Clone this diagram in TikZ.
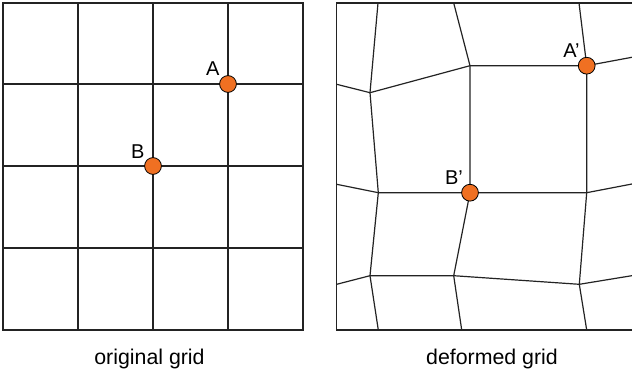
\documentclass[tikz,border=0pt]{standalone}
\usepackage{fontspec}
\setmainfont{Liberation Sans}
\usetikzlibrary{positioning}
\definecolor{dotorange}{RGB}{240,112,34}
\definecolor{gridline}{RGB}{35,35,35}
\begin{document}
\begin{tikzpicture}[
        x=0.75pt, y=-0.75pt,
        grid/.style={draw=gridline, line width=0.9pt, line join=miter},
        dot/.style={circle, draw=black, line width=0.6pt, fill=dotorange, minimum size=12.6pt, inner sep=0pt},
        lbl/.style={inner sep=0pt, font=\fontsize{15}{18}\selectfont},
        caption/.style={inner sep=0pt, font=\fontsize{16}{19}\selectfont}
    ]
        \useasboundingbox (0,0) rectangle (632,378);
        \clip (0,0) rectangle (632,378);

        % Original grid
        \draw[grid] (3,3) rectangle (303,330);
        \draw[grid] (78,3) -- (78,330);
        \draw[grid] (153,3) -- (153,330);
        \draw[grid] (228,3) -- (228,330);
        \draw[grid] (3,84) -- (303,84);
        \draw[grid] (3,166) -- (303,166);
        \draw[grid] (3,248) -- (303,248);

        % Deformed grid
        \draw[grid] (336.7,3) rectangle (636.7,330);
        \draw[grid] (336.7,84.3) -- (370,92.7) -- (470,65.7) -- (586.7,65.7) -- (636.7,56.4);
        \draw[grid] (336.7,184.3) -- (378.3,192.7) -- (470,192.7) -- (586.7,192.7) -- (636.7,183.1);
        \draw[grid] (336.7,284.3) -- (370,275.7) -- (453.7,275.7) -- (579.3,284.3) -- (636.7,274.9);
        \draw[grid] (378,3) -- (370,92.7) -- (378.3,192.7) -- (370,275.7) -- (378.3,330);
        \draw[grid] (453.7,3) -- (470,65.7) -- (470,192.7) -- (453.7,275.7) -- (461.7,330);
        \draw[grid] (579,3) -- (586.7,65.7) -- (586.7,192.7) -- (579.3,284.3) -- (586.7,330);

        % Points
        \node[dot] (ptA) at (228,84) {};
        \node[dot] (ptB) at (153,166) {};
        \node[dot] (ptA2) at (586.7,65.7) {};
        \node[dot] (ptB2) at (470,192.7) {};

        \node[lbl, above left=1.5pt and 1.5pt of ptA] (lblA) {A};
        \node[lbl, above left=1pt and 1.5pt of ptB] (lblB) {B};
        \node[lbl, above left=1pt and 0.5pt of ptA2] (lblA2) {A’};
        \node[lbl, above left=1pt and 0.5pt of ptB2] (lblB2) {B’};

        % Captions
        \node[caption] (capL) at (149.5,359) {original grid};
        \node[caption] (capR) at (492,359) {deformed grid};
    \end{tikzpicture}
\end{document}
